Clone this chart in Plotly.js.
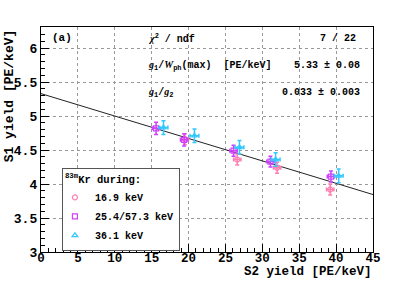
<!DOCTYPE html>
<html><head><meta charset="utf-8">
<script src="https://cdn.plot.ly/plotly-3.0.1.min.js"></script>
<style>html,body{margin:0;padding:0;background:#fff;}#chart{width:415px;height:281px;}</style>
</head><body><div id="chart"></div>
<script>
// Data
const pinkX = [19.5, 26.6, 32.0, 39.2];
const pinkY = [4.66, 4.36, 4.24, 3.92];
const pinkEX = [0.5, 0.5, 0.5, 0.5];
const pinkEY = [0.08, 0.08, 0.08, 0.08];

const magX = [15.6, 19.4, 26.1, 31.1, 39.3];
const magY = [4.82, 4.65, 4.49, 4.33, 4.11];
const magEX = [0.5, 0.5, 0.5, 0.5, 0.5];
const magEY = [0.09, 0.09, 0.08, 0.08, 0.08];

const cyanX = [16.6, 20.8, 26.9, 31.8, 40.35];
const cyanY = [4.83, 4.71, 4.54, 4.36, 4.12];
const cyanEX = [0.6, 0.6, 0.6, 0.6, 0.6];
const cyanEY = [0.1, 0.1, 0.1, 0.1, 0.1];

const fitIntercept = 5.33;   // g1/Wph(max)
const fitSlope = 0.033;      // g1/g2
const fitX = [0, 45];
const fitY = fitX.map(x => fitIntercept - fitSlope * x);

const legendNames = ['16.9 keV', '25.4/57.3 keV', '36.1 keV'];
const colPink = '#ff7fb0', colMag = '#d040ff', colCyan = '#30c8ff';

const mono = 'Liberation Mono, Courier New, monospace';

function ptTrace(x, y, ex, ey, color, symbol, name) {
  return {
    type: 'scatter', mode: 'markers', x: x, y: y, name: name,
    marker: {symbol: symbol, size: 5, color: color, line: {color: color, width: 1.2}},
    error_x: {type: 'data', array: ex, color: color, thickness: 1.5, width: 2},
    error_y: {type: 'data', array: ey, color: color, thickness: 1.5, width: 2}
  };
}

const traces = [
  {type: 'scatter', mode: 'lines', x: fitX, y: fitY, line: {color: '#222', width: 1}, showlegend: false, hoverinfo: 'skip'},
  ptTrace(pinkX, pinkY, pinkEX, pinkEY, colPink, 'circle-open', legendNames[0]),
  ptTrace(magX, magY, magEX, magEY, colMag, 'square-open', legendNames[1]),
  ptTrace(cyanX, cyanY, cyanEX, cyanEY, colCyan, 'triangle-up-open', legendNames[2])
];

const axisCommon = {
  ticks: 'inside', ticklen: 8, tickcolor: '#000', tickwidth: 1,
  showgrid: true, gridcolor: '#999', griddash: 'dot', gridwidth: 1,
  showline: true, linecolor: '#000', linewidth: 1.2, mirror: true,
  zeroline: false,
  tickfont: {family: mono, size: 13, color: '#000', weight: 'bold'}
};

const txtFont = {family: mono, size: 10, color: '#000', weight: 'bold'};
const gi = s => '<span style="font-family:Liberation Serif;font-style:italic">' + s + '</span>';

const layout = {
  width: 415, height: 281,
  margin: {l: 41, r: 42, t: 27, b: 29, pad: 0},
  paper_bgcolor: '#fff', plot_bgcolor: '#fff',
  xaxis: Object.assign({}, axisCommon, {
    range: [0, 45], dtick: 5, tick0: 0, ticklabelstandoff: -6,
    tickfont: {family: mono, size: 12.5, color: '#000', weight: 'bold'},
    minor: {dtick: 1, ticks: 'inside', ticklen: 4, tickcolor: '#000', showgrid: false}
  }),
  yaxis: Object.assign({}, axisCommon, {
    range: [3, 6.31], dtick: 0.5, tick0: 3,
    minor: {dtick: 0.1, ticks: 'inside', ticklen: 4, tickcolor: '#000', showgrid: false}
  }),
  showlegend: true,
  legend: {
    x: 0.063, y: 0.3725, xanchor: 'left', yanchor: 'top',
    bgcolor: '#fff', bordercolor: '#555', borderwidth: 1,
    font: {family: mono, size: 10, color: '#000', weight: 'bold'},
    title: {text: '<sup>83m</sup>Kr during:', font: {family: mono, size: 10.5, color: '#000', weight: 'bold'}},
    tracegroupgap: 0, itemwidth: 30, indentation: -8
  },
  annotations: [
    {xref: 'paper', yref: 'paper', x: 1.0, y: -0.1235, xanchor: 'right', yanchor: 'bottom',
     text: 'S2 yield [PE/keV]', showarrow: false, borderpad: 0,
     font: {family: mono, size: 12.5, color: '#000', weight: 'bold'}},
    {xref: 'paper', yref: 'paper', x: -0.094, y: 1.0, xanchor: 'center', yanchor: 'top',
     text: 'S1 yield [PE/keV]', textangle: -90, showarrow: false,
     font: {family: mono, size: 13, color: '#000', weight: 'bold'}},
    {xref: 'paper', yref: 'paper', x: 0.028, y: 0.95, xanchor: 'left', yanchor: 'middle',
     text: '(a)', showarrow: false, font: {family: mono, size: 11, color: '#000', weight: 'bold'}},
    {xref: 'paper', yref: 'paper', x: 0.316, y: 0.95, xanchor: 'left', yanchor: 'middle',
     text: gi('χ') + '<sup>2</sup> / ndf', showarrow: false, font: txtFont},
    {xref: 'paper', yref: 'paper', x: 0.955, y: 0.95, xanchor: 'right', yanchor: 'middle',
     text: '7 / 22', showarrow: false, font: txtFont},
    {xref: 'paper', yref: 'paper', x: 0.316, y: 0.83, xanchor: 'left', yanchor: 'middle',
     text: gi('g') + '<sub>1</sub>/' + gi('W') + '<sub>ph</sub>(max)  [PE/keV]', showarrow: false, font: txtFont},
    {xref: 'paper', yref: 'paper', x: 0.968, y: 0.83, xanchor: 'right', yanchor: 'middle',
     text: '5.33 ± 0.08', showarrow: false, font: txtFont},
    {xref: 'paper', yref: 'paper', x: 0.316, y: 0.71, xanchor: 'left', yanchor: 'middle',
     text: gi('g') + '<sub>1</sub>/' + gi('g') + '<sub>2</sub>', showarrow: false, font: txtFont},
    {xref: 'paper', yref: 'paper', x: 0.968, y: 0.71, xanchor: 'right', yanchor: 'middle',
     text: '0.033 ± 0.003', showarrow: false, font: txtFont}
  ]
};

Plotly.newPlot('chart', traces, layout, {staticPlot: true, displayModeBar: false});
</script>
</body></html>
